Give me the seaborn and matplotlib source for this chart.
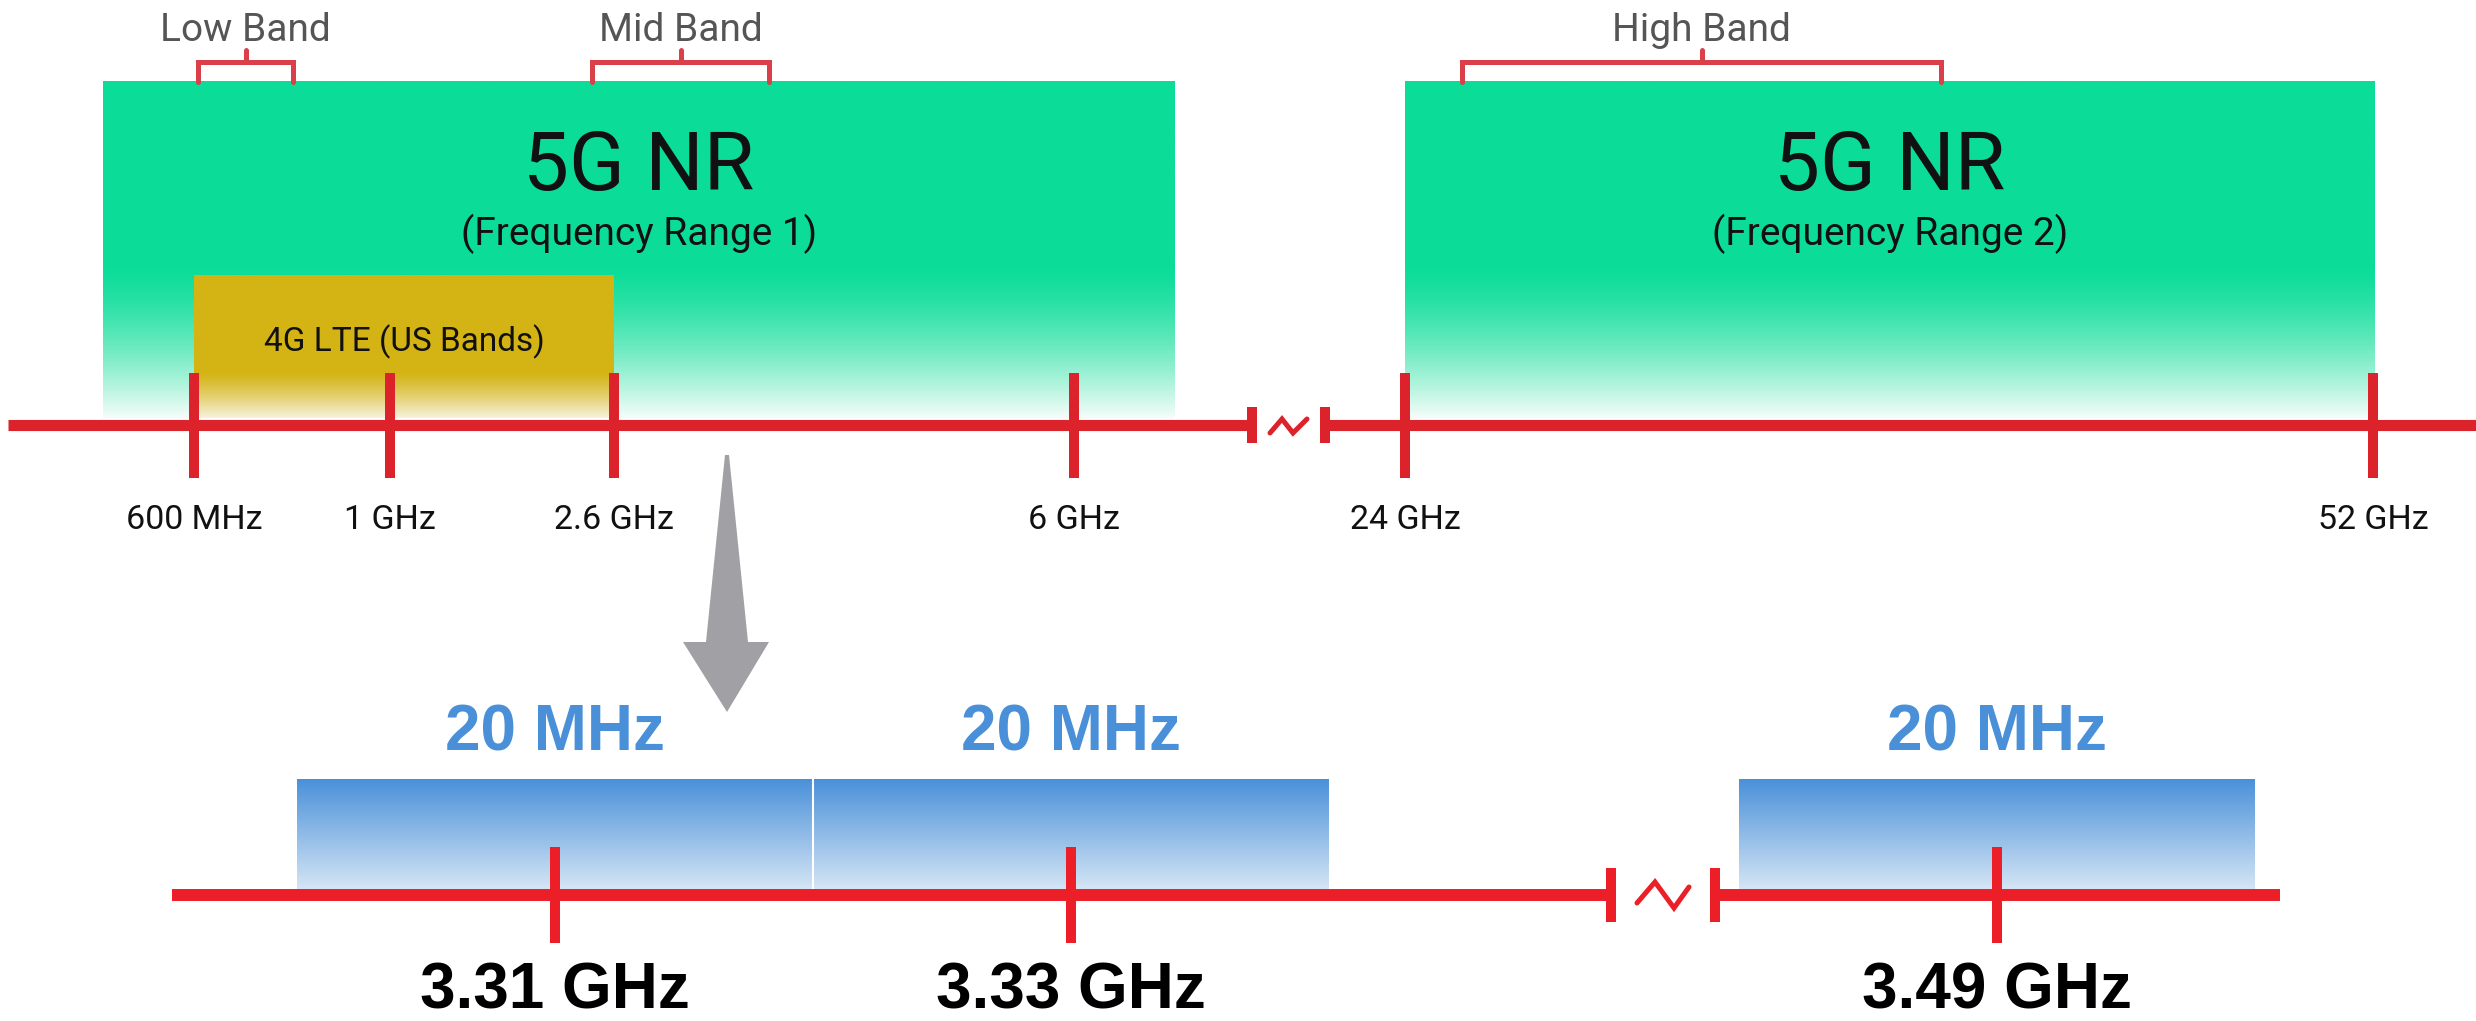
import numpy as np
import seaborn as sns
import matplotlib.pyplot as plt
from matplotlib.patches import Polygon

# ---------------- Data ----------------
top_tick_labels = ['600 MHz', '1 GHz', '2.6 GHz', '6 GHz', '24 GHz', '52 GHz']
top_tick_ghz = [0.6, 1.0, 2.6, 6.0, 24.0, 52.0]
band_names = ['Low Band', 'Mid Band', 'High Band']
range_titles = ['5G NR', '5G NR']
range_subtitles = ['(Frequency Range 1)', '(Frequency Range 2)']
lte_label = '4G LTE (US Bands)'
channel_ghz = [3.31, 3.33, 3.49]
channel_labels = ['3.31 GHz', '3.33 GHz', '3.49 GHz']
channel_bw_labels = ['20 MHz', '20 MHz', '20 MHz']

# ---------------- Layout (schematic, pixels) ----------------
W, H = 2476, 1021
top_tick_x = [194, 390, 614, 1074, 1405, 2373]
range_boxes = [(103, 1175), (1405, 2375)]
band_spans = [(198, 293), (592, 769), (1462, 1941)]
lte_span = (194, 614)
chan_x = [555, 1071, 1997]
chan_half = 258

RED_TOP = '#DC232B'
RED_BOT = '#EC1E27'
BRACKET = '#D9404A'
GREEN = (11, 221, 152)
YELLOW = (212, 180, 20)
BLUE_TOP = (74, 144, 217)
BLUE_BOT = (214, 230, 245)

sns.set_theme(style='white')
plt.rcParams['font.family'] = ['Roboto', 'DejaVu Sans']


def gradient_box(ax, x0, x1, y_top, y_bot, top_rgb, bot_rgb, fade_start=0.0, power=1.0, z=1):
    t = np.linspace(0, 1, 400)
    f = np.clip((t - fade_start) / (1 - fade_start), 0, 1) ** power
    top = np.array(top_rgb) / 255
    bot = np.array(bot_rgb) / 255
    col = top[None, :] * (1 - f[:, None]) + bot[None, :] * f[:, None]
    ax.imshow(col[:, None, :], extent=(x0, x1, y_bot, y_top), aspect='auto',
              interpolation='bilinear', origin='upper', zorder=z)


def axis_break(ax, xl, xr, y, h, zig_x, zig_y, color, lw):
    ax.vlines([xl, xr], y - h, y + h, color=color, lw=lw, zorder=5)
    ax.plot(zig_x, zig_y, color=color, lw=lw * 0.5, zorder=5, solid_joinstyle='miter')


fig = plt.figure(figsize=(W / 100, H / 100), dpi=100)
ax = fig.add_axes([0, 0, 1, 1])

# ---------------- Top: 5G NR ranges ----------------
for (x0, x1), title, sub in zip(range_boxes, range_titles, range_subtitles):
    gradient_box(ax, x0, x1, 82, 418, GREEN, (245, 253, 250), fade_start=0.55, power=1.4)
    xc = (x0 + x1) / 2
    ax.text(xc, 190, title, ha='center', va='baseline', fontsize=59, color='#111111', zorder=6)
    ax.text(xc, 245, sub, ha='center', va='baseline', fontsize=28, color='#111111', zorder=6)

gradient_box(ax, lte_span[0], lte_span[1], 275, 418, YELLOW, (246, 242, 220),
             fade_start=0.68, power=1.2, z=2)
ax.text(sum(lte_span) / 2, 351, lte_label, ha='center', va='baseline', fontsize=24,
        color='#111111', zorder=6)

for (x0, x1), name in zip(band_spans, band_names):
    xc = (x0 + x1) / 2
    ax.plot([x0, x0, x1, x1], [82, 62, 62, 82], color=BRACKET, lw=3.6, zorder=4,
            solid_joinstyle='miter')
    ax.plot([xc, xc], [62, 50], color=BRACKET, lw=3.6, zorder=4)
    ax.text(xc, 41, name, ha='center', va='baseline', fontsize=28, color='#555555')

# top axis
ax.plot([8, 1252], [425, 425], color=RED_TOP, lw=8, solid_capstyle='butt', zorder=5)
ax.plot([1325, W], [425, 425], color=RED_TOP, lw=8, solid_capstyle='butt', zorder=5)
axis_break(ax, 1252, 1325, 425, 18, [1270, 1282, 1293, 1307], [433, 419, 433, 419], RED_TOP, 7.2)
ax.vlines(top_tick_x, 373, 478, color=RED_TOP, lw=7.2, zorder=5)
for x, lab in zip(top_tick_x, top_tick_labels):
    ax.text(x, 529, lab, ha='center', va='baseline', fontsize=24.5, color='#111111')

# zoom arrow
arrow = Polygon([(725, 455), (729, 455), (748, 642), (769, 642), (727, 712),
                 (683, 642), (706, 642)], closed=True, color='#A0A0A5', lw=0, zorder=3)
ax.add_patch(arrow)

# ---------------- Bottom: 20 MHz channels ----------------
for xc, bw in zip(chan_x, channel_bw_labels):
    gradient_box(ax, xc - chan_half, xc + chan_half, 779, 890, BLUE_TOP, BLUE_BOT, z=2)
    ax.text(xc, 750, bw, ha='center', va='baseline', fontsize=46, fontweight='bold',
            color='#4A90D9', family=['Liberation Sans', 'DejaVu Sans'])
ax.vlines([chan_x[0] + chan_half], 779, 890, color='white', lw=1.5, zorder=3)

ax.plot([172, 1611], [895, 895], color=RED_BOT, lw=8.6, solid_capstyle='butt', zorder=5)
ax.plot([1715, 2280], [895, 895], color=RED_BOT, lw=8.6, solid_capstyle='butt', zorder=5)
axis_break(ax, 1611, 1715, 895, 27, [1637, 1655, 1674, 1689], [903, 882, 908, 887], RED_BOT, 7.2)
ax.vlines(chan_x, 847, 943, color=RED_BOT, lw=7.2, zorder=5)
for xc, lab in zip(chan_x, channel_labels):
    ax.text(xc, 1008, lab, ha='center', va='baseline', fontsize=46, fontweight='bold',
            color='#000000', family=['Liberation Sans', 'DejaVu Sans'])

ax.set_xlim(0, W)
ax.set_ylim(H, 0)
ax.axis('off')
fig.savefig('out.png', dpi=100, facecolor='white')
